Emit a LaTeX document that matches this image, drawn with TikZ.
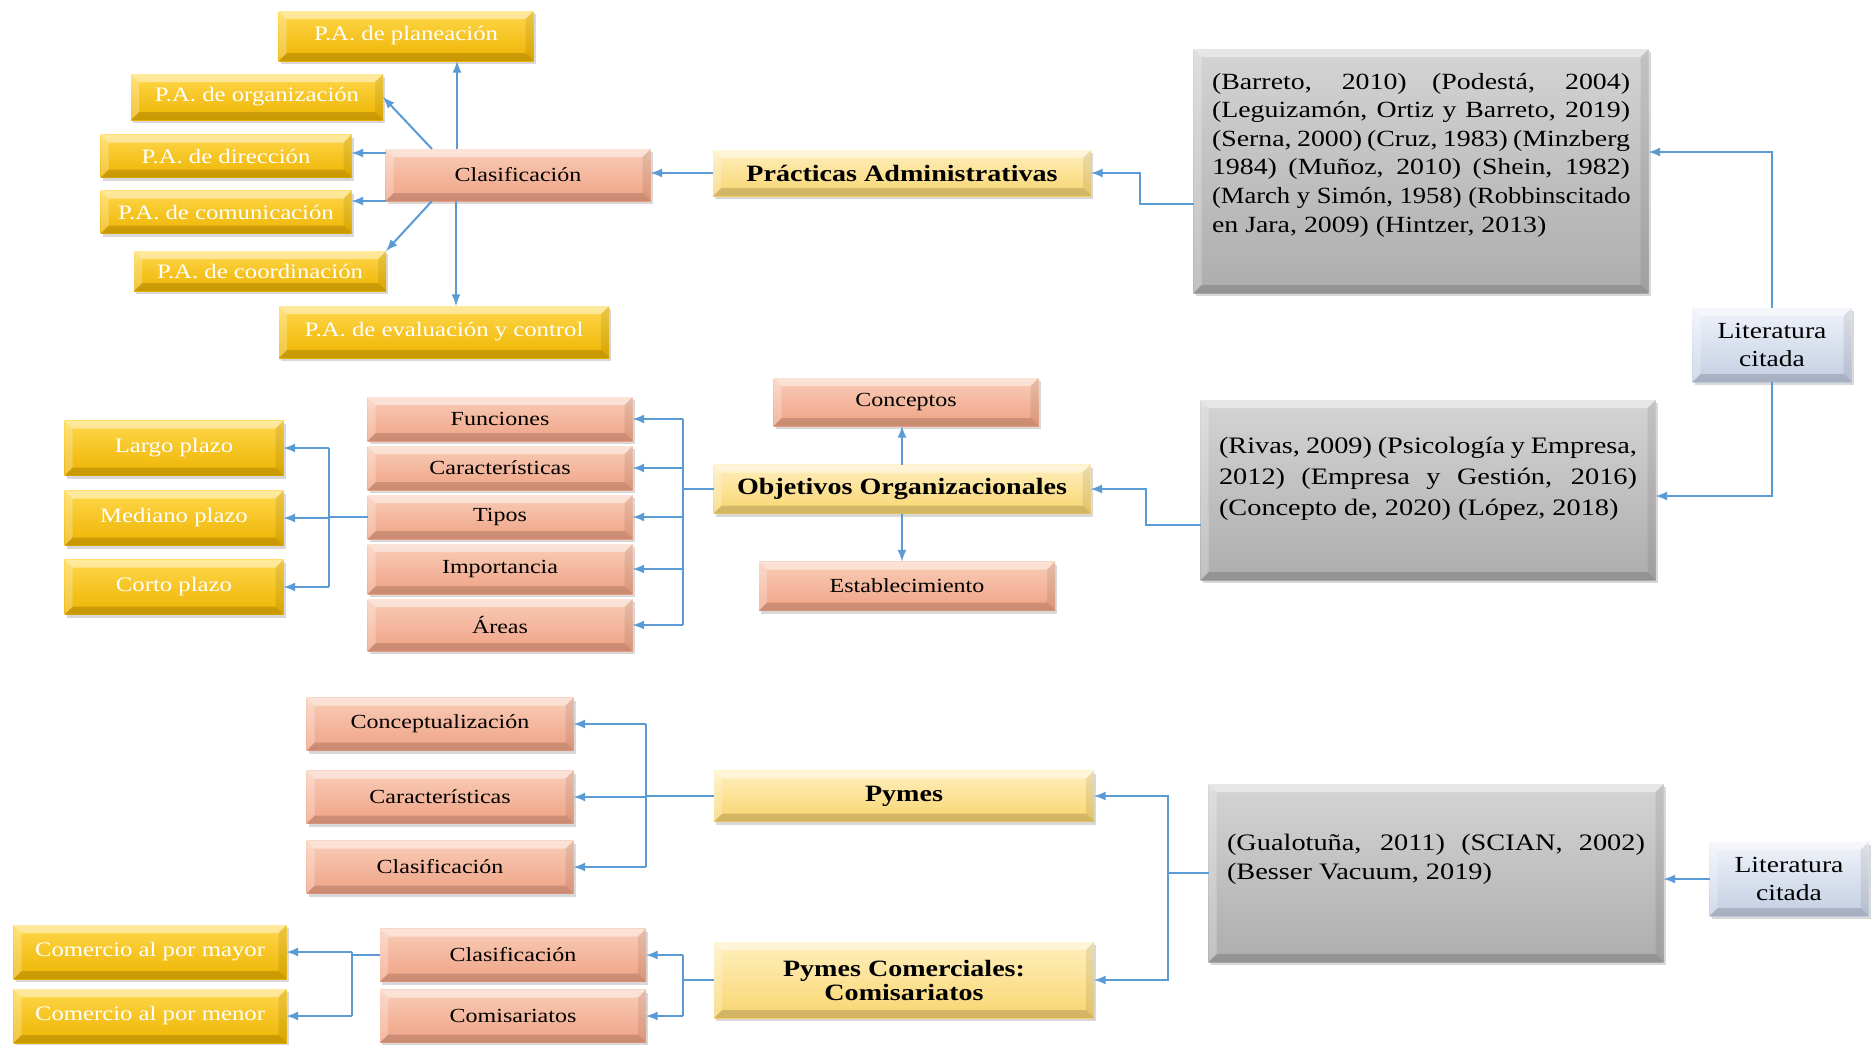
\documentclass[tikz,border=0pt]{standalone}
\usepackage{fontspec}
\setmainfont{Liberation Serif}[FakeStretch=1.2]
\usepackage{graphicx}
\usepackage{tikz}
\usetikzlibrary{arrows,shadows}
\usetikzlibrary{positioning,calc}
\definecolor{goldtop}{HTML}{FFD84C}
\definecolor{goldbot}{HTML}{EDB300}
\definecolor{salmtop}{HTML}{F9CDB8}
\definecolor{salmbot}{HTML}{EFA284}
\definecolor{lgtop}{HTML}{FFEFBD}
\definecolor{lgbot}{HTML}{F8D570}
\definecolor{greytop}{HTML}{D4D4D4}
\definecolor{greybot}{HTML}{ADADAD}
\definecolor{littop}{HTML}{F0F3FA}
\definecolor{litbot}{HTML}{C3CEE2}
\definecolor{arrowblue}{HTML}{5B9BD5}
\newcommand{\jline}[1]{\makebox[209pt][s]{#1}\\}

\begin{document}
\begin{tikzpicture}[x=0.5pt,y=-0.5pt,>=latex,
        bevel/.style={path picture={
          \coordinate (bnw) at (path picture bounding box.north west);
          \coordinate (bse) at (path picture bounding box.south east);
          \fill[white,opacity=.45] (bnw) -- (bnw -| bse) -- ([shift={(-4pt,-4pt)}]bnw -| bse) -- ([shift={(4pt,-4pt)}]bnw) -- cycle;
          \fill[black,opacity=.15] (bse) -- (bse -| bnw) -- ([shift={(4pt,4pt)}]bse -| bnw) -- ([shift={(-4pt,4pt)}]bse) -- cycle;
          \fill[white,opacity=.25] (bnw) -- ([shift={(4pt,-4pt)}]bnw) -- ([shift={(4pt,4pt)}]bse -| bnw) -- (bse -| bnw) -- cycle;
          \fill[black,opacity=.08] (bse) -- ([shift={(-4pt,4pt)}]bse) -- ([shift={(-4pt,-4pt)}]bnw -| bse) -- (bnw -| bse) -- cycle;}},
        block/.style={rectangle,outer sep=0pt,inner sep=2pt,minimum height=23pt,
          drop shadow={shadow xshift=1.2pt,shadow yshift=-1.5pt,opacity=.3},bevel},
        goldbox/.style={block,top color=goldtop,bottom color=goldbot,text=white,font=\fontsize{10.3}{12}\selectfont},
        salmonbox/.style={block,top color=salmtop,bottom color=salmbot,font=\fontsize{10}{12}\selectfont},
        mainbox/.style={block,top color=lgtop,bottom color=lgbot,align=center,font=\bfseries\fontsize{11.7}{12}\selectfont},
        refbox/.style={block,inner sep=0pt,minimum width=227.5pt,top color=greytop,bottom color=greybot},
        litbox/.style={block,minimum width=79.5pt,minimum height=37pt,top color=littop,bottom color=litbot,
          align=center,font=\fontsize{11.5}{13.7}\selectfont},
        wire/.style={draw=arrowblue,line width=1pt},
        conn/.style={wire,->}]
   \path[use as bounding box,fill=white] (0,0) rectangle (1872,1044);

   % Practicas administrativas
   \node[mainbox,minimum width=189pt] (PA) at (902,173) {Prácticas Administrativas};
   \node[salmonbox,minimum width=132.5pt,minimum height=26pt] (CL) at (518,175) {Clasificación};
   \node[goldbox,minimum width=127.5pt,minimum height=25pt] (P1) at (406,36) {P.A. de planeación};
   \node[goldbox,minimum width=126pt] (P2) at (257,97) {P.A. de organización};
   \node[goldbox,minimum width=125.5pt,minimum height=21.5pt] (P3) at (226,156) {P.A. de dirección};
   \node[goldbox,minimum width=125.5pt,minimum height=21.5pt] (P4) at (226,212) {P.A. de comunicación};
   \node[goldbox,minimum width=126pt,minimum height=20pt] (P5) at (260,271) {P.A. de coordinación};
   \node[goldbox,minimum width=165pt,minimum height=26pt] (P6) at (444,332) {P.A. de evaluación y control};
   \node[refbox,minimum height=122pt,font=\fontsize{11.6}{14.3}\selectfont] (R1) at (1421,171)
      {\parbox[c][110pt][t]{209pt}{\vspace*{6pt}%
       \jline{(Barreto, 2010) (Podestá, 2004)}
       \jline{(Leguizamón, Ortiz y Barreto, 2019)}
       \jline{(Serna, 2000) (Cruz, 1983) (Minzberg}
       \jline{1984) (Muñoz, 2010) (Shein, 1982)}
       \jline{\scalebox{0.955}[1]{(March y Simón, 1958) (Robbinscitado}}
       en Jara, 2009) (Hintzer, 2013)}};
   \node[litbox] (L1) at (1772,345) {Literatura\\citada};
   \node[refbox,minimum height=90pt,font=\fontsize{11.8}{15.5}\selectfont] (R2) at (1428,490)
      {\parbox[c][80pt][t]{209pt}{\vspace*{13.5pt}%
       \jline{(Rivas, 2009) (Psicología y Empresa,}
       \jline{2012) (Empresa y Gestión, 2016)}
       (Concepto de, 2020) (López, 2018)}};

   % Objetivos organizacionales
   \node[mainbox,minimum width=188.5pt,minimum height=24.5pt] (OO) at (902,489) {Objetivos Organizacionales};
   \node[salmonbox,minimum width=132.5pt,minimum height=24pt] (CO) at (906,402) {Conceptos};
   \node[salmonbox,minimum width=148pt,minimum height=24.5pt] (ES) at (907,586) {Establecimiento};
   \node[salmonbox,minimum width=132.5pt,minimum height=22pt] (F1) at (500,419) {Funciones};
   \node[salmonbox,minimum width=132.5pt,minimum height=22pt] (F2) [below=2.5pt of F1] {Características};
   \node[salmonbox,minimum width=132.5pt,minimum height=22pt] (F3) [below=2.5pt of F2] {Tipos};
   \node[salmonbox,minimum width=132.5pt,minimum height=25pt] (F4) [below=2.5pt of F3] {Importancia};
   \node[salmonbox,minimum width=132.5pt,minimum height=26pt] (F5) [below=2.5pt of F4] {Áreas};
   \node[goldbox,minimum width=109.5pt,minimum height=27.5pt] (T1) at (174,448) {Largo plazo};
   \node[goldbox,minimum width=109.5pt,minimum height=27.5pt] (T2) at (174,518) {Mediano plazo};
   \node[goldbox,minimum width=109.5pt,minimum height=27.5pt] (T3) at (174,587) {Corto plazo};

   % Pymes
   \node[mainbox,minimum width=190pt,minimum height=25.5pt] (PY) at (904,796) {Pymes};
   \node[mainbox,minimum width=190pt,minimum height=38pt] (PC) at (904,980) {Pymes Comerciales:\\Comisariatos};
   \node[salmonbox,minimum width=133.5pt,minimum height=26.5pt] (C1) at (440,724) {Conceptualización};
   \node[salmonbox,minimum width=133.5pt,minimum height=26.5pt] (C2) at (440,797) {Características};
   \node[salmonbox,minimum width=133.5pt,minimum height=26.5pt] (C3) at (440,867) {Clasificación};
   \node[salmonbox,minimum width=133pt,minimum height=26.5pt] (D1) at (513,955) {Clasificación};
   \node[salmonbox,minimum width=133pt,minimum height=26.5pt] (D2) at (513,1016) {Comisariatos};
   \node[goldbox,minimum width=136.5pt,minimum height=27pt] (E1) at (150,952) {Comercio al por mayor};
   \node[goldbox,minimum width=136.5pt,minimum height=27pt] (E2) at (150,1016) {Comercio al por menor};
   \node[refbox,minimum height=89pt,font=\fontsize{11.8}{14.5}\selectfont] (R3) at (1436,873)
      {\parbox[c][80pt][t]{209pt}{\vspace*{20.5pt}%
       \jline{(Gualotuña, 2011) (SCIAN, 2002)}
       (Besser Vacuum, 2019)}};
   \node[litbox] (L2) at (1789,879) {Literatura\\citada};

   % conectores
   \draw[conn] ([yshift=-16.5pt]R1.west) -- ++(-54,0) |- (PA.east);
   \draw[conn] (PA.west) -- (PA.west -| CL.east);
   \draw[conn] ([xshift=-30.5pt]CL.north) -- ([xshift=-30.5pt]CL.north |- P1.south);
   \draw[conn] ([xshift=-43pt]CL.north) -- (P2.east);
   \draw[conn] ([yshift=11pt]CL.west) -- ([yshift=11pt]CL.west -| P3.east);
   \draw[conn] ([yshift=-13pt]CL.west) -- ([yshift=-13pt]CL.west -| P4.east);
   \draw[conn] ([xshift=-43pt]CL.south) -- (P5.north east);
   \draw[conn] ([xshift=-31pt]CL.south) -- ([xshift=-31pt]CL.south |- P6.north);
   \draw[conn] (L1.north) |- ([yshift=9.5pt]R1.east);
   \draw[conn] (L1.south) |- ([yshift=-3pt]R2.east);

   \draw[conn] ([yshift=-17.5pt]R2.west) -- ++(-55,0) |- (OO.east);
   \draw[conn] (OO.north) -- (OO.north |- CO.south);
   \draw[conn] (OO.south) -- (OO.south |- ES.north);
   \draw[wire] (OO.west) -- ++(-31,0) coordinate (B1);
   \draw[wire] (B1 |- F1) -- (B1 |- F5);
   \foreach \n in {F1,F2,F3,F4,F5} \draw[conn] (B1 |- \n) -- (\n.east);
   \draw[wire] (F3.west) -- ++(-39,0) coordinate (B2);
   \draw[wire] (B2 |- T1) -- (B2 |- T3);
   \foreach \n in {T1,T2,T3} \draw[conn] (B2 |- \n) -- (\n.east);

   \draw[conn] (L2.west) -- (L2.west -| R3.east);
   \draw[wire] (R3.west) -- ++(-41,0) coordinate (B3);
   \draw[conn] (B3) |- (PY.east);
   \draw[conn] (B3) |- (PC.east);
   \draw[wire] (PY.west) -- ++(-68,0) coordinate (B4);
   \draw[wire] (B4 |- C1) -- (B4 |- C3);
   \foreach \n in {C1,C2,C3} \draw[conn] (B4 |- \n) -- (\n.east);
   \draw[wire] (PC.west) -- ++(-31,0) coordinate (B5);
   \draw[wire] (B5 |- D1) -- (B5 |- D2);
   \foreach \n in {D1,D2} \draw[conn] (B5 |- \n) -- (\n.east);
   \draw[wire] (D1.west) -- ++(-28,0) coordinate (B6);
   \draw[wire] (B6 |- E1) -- (B6 |- E2);
   \foreach \n in {E1,E2} \draw[conn] (B6 |- \n) -- (\n.east);

\end{tikzpicture}
\end{document}
